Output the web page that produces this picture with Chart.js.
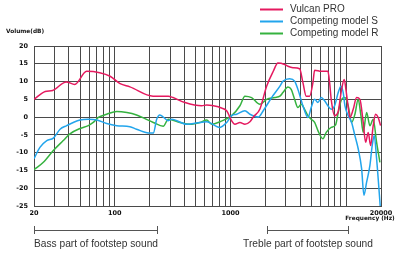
<!DOCTYPE html>
<html>
<head>
<meta charset="utf-8">
<script src="https://cdn.jsdelivr.net/npm/chart.js@4/dist/chart.umd.min.js"></script>
<style>
  html, body { margin: 0; padding: 0; background: #fff; }
  #wrap { width: 400px; height: 256px; position: relative; }
</style>
</head>
<body>
<div id="wrap"><canvas id="fr"></canvas></div>
<script>
// frequency response
const vulcanHz = [20, 25, 29, 38, 45, 57, 74, 91, 111, 135, 214, 290, 318, 404, 563, 622, 783, 810, 926, 1022,
  1092, 1206, 1332, 1472, 1572, 1796, 2052, 2342, 2570, 2938, 3136, 3464, 3958, 4227, 4515, 4831, 5158, 5336, 6085, 6950,
  7190, 7422, 7942, 8485, 9130, 9616, 9946, 10288, 10771, 11502, 12308, 13144, 14036, 14724, 15506, 16262, 17126, 17964, 18918, 19840];
const vulcanDb = [5.0, 7.2, 7.5, 9.9, 9.2, 12.9, 12.5, 11.5, 9.4, 8.5, 5.9, 5.9, 5.5, 4.1, 3.2, 3.4, 2.9, 2.7, 1.8, -1.0,
  -2.0, -1.5, -2.0, -1.3, 0.0, 2.3, 8.7, 12.9, 15.2, 14.8, 14.3, 13.9, 13.6, 9.7, 5.9, 5.9, 9.7, 13.2, 12.9, 12.9,
  9.7, 5.0, 0.4, 1.3, 7.8, 10.6, 7.8, 4.1, -0.1, 2.2, 5.5, 5.0, -1.5, -7.1, -4.3, -8.0, -2.4, 0.8, -0.1, -2.4];

const modelSHz = [20, 22.5, 25.8, 29.4, 33.6, 38.4, 43.7, 50, 59, 70, 85, 104, 135, 154, 201, 215, 230, 245, 290, 310,
  418, 544, 622, 810, 926, 1022, 1130, 1332, 1472, 1737, 1918, 2268, 2674, 2838, 3243, 3583, 3826, 4227, 4670, 4986,
  5336, 5698, 6085, 6511, 6950, 7422, 7942, 8535, 9006, 9426, 9750, 10412, 11140, 11898, 12706, 13596, 14234, 15018, 16038, 16788,
  17470, 18324, 19182, 19684];
const modelSDb = [-11.7, -8.5, -6.6, -5.9, -3.4, -2.4, -1.5, -0.8, -0.6, -0.8, -1.8, -2.4, -2.7, -3.4, -4.5, -4.5, -0.6, 0.6, -1.0, -0.6,
  -2.0, -1.5, -1.3, -2.9, -1.5, 0.4, 0.8, 1.8, 0.8, 0.0, 1.8, 5.5, 8.7, 10.1, 10.8, 10.1, 7.8, 3.2, -0.1, 2.7,
  5.0, 4.1, 5.5, 4.6, 3.2, 2.2, 3.2, 6.9, 8.7, 6.9, 3.2, 0.4, -1.5, -5.2, -8.9, -14.5, -22, -18.3, -13.6, -8.0,
  -5.2, -11.7, -20, -25];

const modelRHz = [20, 24.1, 29.4, 35.8, 40.9, 50, 59, 65, 72, 85, 104, 127, 154, 215, 262, 290, 366, 446, 544, 622,
  687, 810, 1022, 1206, 1332, 1522, 1796, 2052, 2422, 2674, 2838, 3136, 3348, 3583, 3826, 4086, 4372, 4670, 4986, 5336,
  5698, 6294, 6721, 7422, 8100, 8535, 9130, 9750, 10412, 11140, 11898, 12706, 13410, 14036, 15018, 16038, 17126, 18324, 19566];
const modelRDb = [-14.8, -12.7, -9.4, -6.6, -4.7, -3.2, -2.4, -1.5, -0.1, 0.8, 1.6, 1.3, 0.6, -1.5, -2.6, -0.6, -1.5, -2.0, -1.5, -0.8,
  -2.0, -1.3, 0.4, 3.2, 5.9, 5.5, 3.6, 5.0, 5.5, 5.9, 6.9, 8.5, 7.8, 5.0, 2.7, 3.6, 2.2, 0.4, -0.6, -1.5,
  -3.8, -6.1, -4.3, -2.9, -2.2, 1.3, 5.0, 5.5, 3.2, -1.5, 0.8, 5.0, 0.4, -4.3, 1.3, -2.4, -0.6, -7.1, -12.7];

const gridHz = [20, 30, 40, 50, 60, 70, 80, 90, 100, 200, 300, 400, 500, 600, 700, 800, 900, 1000,
  2000, 3000, 4000, 5000, 6000, 7000, 8000, 9000, 10000, 20000];
const labelHz = [20, 100, 1000, 20000];

const rangeLabels = ['Bass part of footstep sound', 'Treble part of footstep sound'];
const rangeFrom = [20, 2050];
const rangeTo = [230, 10400];

function pts(hz, db) {
  return hz.map((f, i) => ({ x: f, y: db[i] }));
}

const tickFont = { family: '"DejaVu Sans", Verdana, sans-serif', size: 6.5, weight: 'bold' };
const gridCol = '#4a4a4a';

const extras = {
  id: 'extras',
  afterDraw(chart) {
    const ctx = chart.ctx;
    const xs = chart.scales.x;
    ctx.save();

    // legend, stacked at top right
    chart.data.datasets.forEach((ds, i) => {
      const y = 9.5 + i * 12;
      ctx.strokeStyle = ds.borderColor;
      ctx.lineWidth = 2;
      ctx.beginPath();
      ctx.moveTo(260, y);
      ctx.lineTo(283, y);
      ctx.stroke();
      ctx.fillStyle = '#333';
      ctx.font = '10px "Liberation Sans", Arial, sans-serif';
      ctx.textBaseline = 'middle';
      ctx.textAlign = 'left';
      ctx.fillText(ds.label, 290, y);
    });

    // axis titles
    ctx.fillStyle = '#111';
    ctx.font = 'bold 5.8px "DejaVu Sans", Verdana, sans-serif';
    ctx.textAlign = 'left';
    ctx.fillText('Volume(dB)', 6, 31);
    ctx.textAlign = 'center';
    ctx.fillText('Frequency (Hz)', 370, 218);

    // range brackets under the axis
    ctx.strokeStyle = '#555';
    ctx.lineWidth = 1;
    ctx.fillStyle = '#333';
    ctx.font = '10.2px "Liberation Sans", Arial, sans-serif';
    ctx.textBaseline = 'alphabetic';
    rangeLabels.forEach((txt, i) => {
      const a = Math.round(xs.getPixelForValue(rangeFrom[i])) + 0.5;
      const b = Math.round(xs.getPixelForValue(rangeTo[i])) + 0.5;
      ctx.beginPath();
      ctx.moveTo(a, 230.5); ctx.lineTo(b, 230.5);
      ctx.moveTo(a, 226); ctx.lineTo(a, 234);
      ctx.moveTo(b, 226); ctx.lineTo(b, 234);
      ctx.stroke();
      if (i === 0) {
        ctx.textAlign = 'left';
        ctx.fillText(txt, a - 0.5, 247);
      } else {
        ctx.textAlign = 'center';
        ctx.fillText(txt, (a + b) / 2, 246.5);
      }
    });
    ctx.restore();
  }
};

const line = (label, color, hz, db) => ({
  label: label,
  data: pts(hz, db),
  borderColor: color,
  borderWidth: 1.5,
  pointRadius: 0,
  fill: false,
  cubicInterpolationMode: 'monotone'
});

new Chart(document.getElementById('fr'), {
  type: 'line',
  data: {
    datasets: [
      line('Vulcan PRO', '#e5195f', vulcanHz, vulcanDb),
      line('Competing model S', '#22a5ec', modelSHz, modelSDb),
      line('Competing model R', '#35b23f', modelRHz, modelRDb)
    ]
  },
  options: {
    responsive: true,
    maintainAspectRatio: false,
    animation: false,
    layout: { padding: { top: 46, right: 19, left: 0, bottom: 0 } },
    plugins: { legend: { display: false }, tooltip: { enabled: false } },
    scales: {
      x: {
        type: 'logarithmic',
        min: 20,
        max: 20000,
        afterBuildTicks: (s) => { s.ticks = gridHz.map(v => ({ value: v })); },
        afterFit: (s) => { s.height = 50; },
        grid: { color: gridCol, lineWidth: 1, drawTicks: false },
        border: { color: gridCol },
        ticks: {
          autoSkip: false,
          maxRotation: 0,
          padding: 3,
          color: '#111',
          font: tickFont,
          callback: (v) => labelHz.includes(v) ? String(v) : ''
        }
      },
      y: {
        min: -25,
        max: 20,
        afterFit: (s) => { s.width = 34; },
        grid: { color: gridCol, lineWidth: 1, drawTicks: false },
        border: { color: gridCol },
        ticks: { stepSize: 5, padding: 6, color: '#111', font: tickFont }
      }
    }
  },
  plugins: [extras]
});
</script>
</body>
</html>
